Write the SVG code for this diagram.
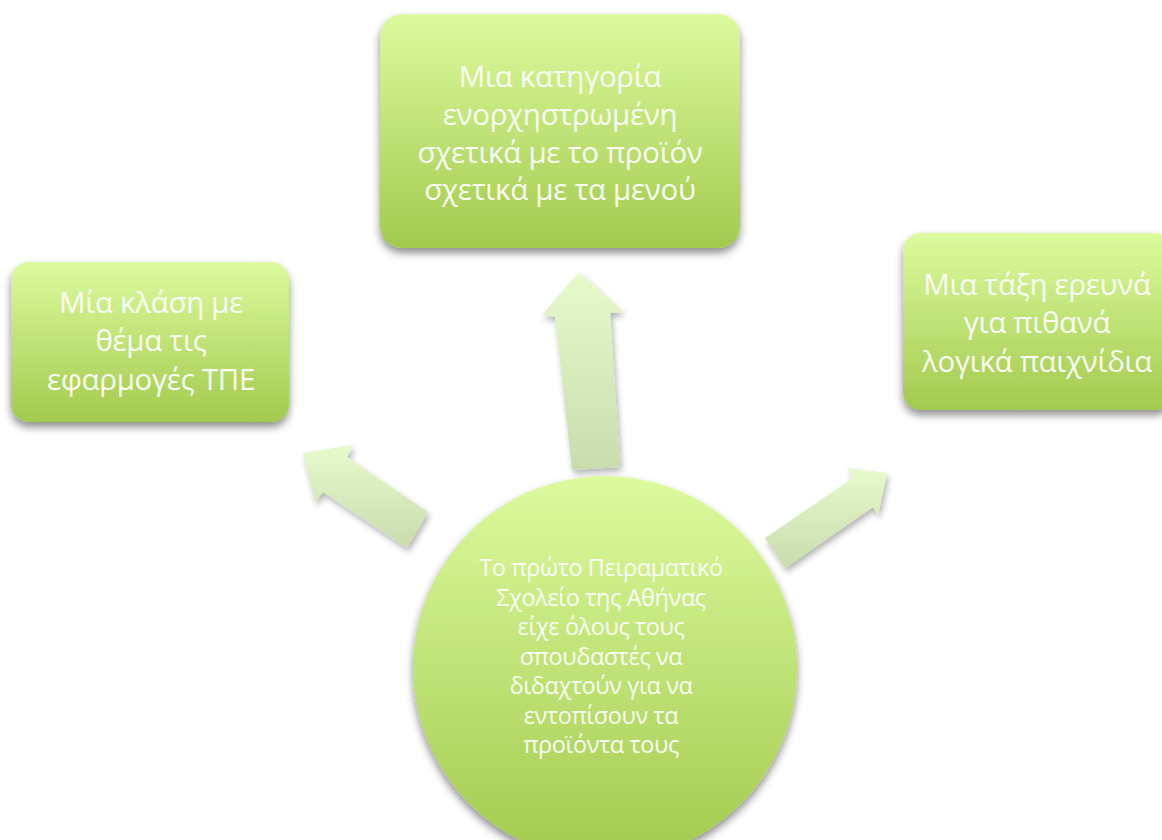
<svg xmlns="http://www.w3.org/2000/svg" width="1162" height="840" viewBox="0 0 1162 840">
<defs>
<linearGradient id="gBox" x1="0" y1="0" x2="0" y2="1">
<stop offset="0" stop-color="#dcfb9e"/>
<stop offset="1" stop-color="#a2ca4e"/>
</linearGradient>
<linearGradient id="gArrow" x1="0" y1="0" x2="0" y2="1">
<stop offset="0" stop-color="#e6facb"/>
<stop offset="1" stop-color="#c9dcae"/>
</linearGradient>
<filter id="sh" x="-20%" y="-20%" width="140%" height="150%">
<feGaussianBlur in="SourceAlpha" stdDeviation="4"/>
<feOffset dx="0" dy="5" result="b"/>
<feComponentTransfer><feFuncA type="linear" slope="0.45"/></feComponentTransfer>
<feMerge><feMergeNode/><feMergeNode in="SourceGraphic"/></feMerge>
</filter>
<filter id="shA" x="-30%" y="-30%" width="160%" height="160%">
<feGaussianBlur in="SourceAlpha" stdDeviation="3"/>
<feOffset dx="2" dy="4"/>
<feComponentTransfer><feFuncA type="linear" slope="0.3"/></feComponentTransfer>
<feMerge><feMergeNode/><feMergeNode in="SourceGraphic"/></feMerge>
</filter>
</defs>
<style>
.box{fill:url(#gBox);filter:url(#sh)}
.arr{fill:url(#gArrow);filter:url(#shA)}
.t{font-family:"Open Sans","Noto Sans","DejaVu Sans",sans-serif;fill:#ffffff;fill-opacity:0.95;text-anchor:middle}
.tb{font-size:29.5px;letter-spacing:-0.3px}
.tc{font-size:23.5px;letter-spacing:-0.4px}
</style>
<rect width="1162" height="840" fill="#ffffff"/>
<g id="connectors">
<polygon class="arr" points="579,272 623,312 610,313 620,467 572,470 555,317 542,315"/>
<polygon class="arr" points="303,453 353,445 347,457 428,512 407,548 323,492 315,502"/>
<polygon class="arr" points="887,473 878,515 873,507 785,568 765,538 853,478 847,468"/>
</g>
<g id="node-top">
<rect class="box" x="380" y="14" width="360" height="234" rx="22"/>
<text class="t tb"><tspan x="560" y="87">Μια κατηγορία</tspan><tspan x="560" y="125">ενορχηστρωμένη</tspan><tspan x="560" y="163">σχετικά με το προϊόν</tspan><tspan x="560" y="200">σχετικά με τα μενού</tspan></text>
</g>
<g id="node-left">
<rect class="box" x="11" y="262" width="278" height="160" rx="18"/>
<text class="t tb"><tspan x="151" y="313">Μία κλάση με</tspan><tspan x="151" y="351">θέμα τις</tspan><tspan x="151" y="390">εφαρμογές ΤΠΕ</tspan></text>
</g>
<g id="node-right">
<rect class="box" x="903" y="233" width="270" height="177" rx="18"/>
<text class="t tb"><tspan x="1037" y="295">Μια τάξη ερευνά</tspan><tspan x="1037" y="333">για πιθανά</tspan><tspan x="1037" y="372">λογικά παιχνίδια</tspan></text>
</g>
<g id="node-center">
<circle class="box" cx="605" cy="668" r="192"/>
<text class="t tc"><tspan x="601" y="576">Το πρώτο Πειραματικό</tspan><tspan x="601" y="606">Σχολείο της Αθήνας</tspan><tspan x="601" y="635">είχε όλους τους</tspan><tspan x="601" y="665">σπουδαστές να</tspan><tspan x="601" y="694">διδαχτούν για να</tspan><tspan x="601" y="724">εντοπίσουν τα</tspan><tspan x="601" y="753">προϊόντα τους</tspan></text>
</g>
</svg>
